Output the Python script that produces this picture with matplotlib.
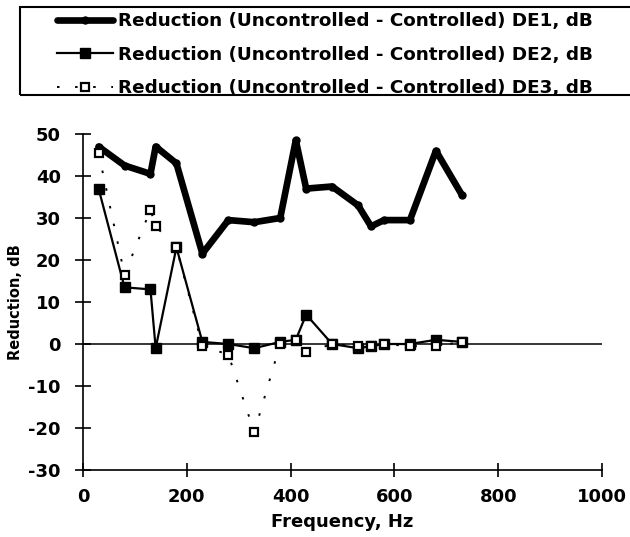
import numpy as np
import matplotlib
matplotlib.use('Agg')
import matplotlib.pyplot as plt
from matplotlib.patches import Rectangle

plt.rcParams['font.family'] = ['DejaVu Sans']
plt.rcParams['font.weight'] = 'bold'
plt.rcParams['axes.unicode_minus'] = False

# values
freq = [30, 80, 130, 140, 180, 230, 280, 330, 380, 410, 430, 480, 530, 555, 580, 630, 680, 730]
de1 = [47, 42.5, 40.5, 47, 43, 21.5, 29.5, 29, 30, 48.5, 37, 37.5, 33, 28, 29.5, 29.5, 46, 35.5]
de2 = [37, 13.5, 13, -1, 23, 0.5, 0, -1, 0.5, 1, 7, 0, -1, -0.5, 0, 0, 1, 0.5]
de3 = [45.5, 16.5, 32, 28, 23, -0.5, -2.5, -21, 0, 1, -2, 0, -0.5, -0.5, 0, -0.5, -0.5, 0.5]
labels = ['Reduction (Uncontrolled - Controlled) DE1, dB',
          'Reduction (Uncontrolled - Controlled) DE2, dB',
          'Reduction (Uncontrolled - Controlled) DE3, dB']
xticks = [0, 200, 400, 600, 800, 1000]
yticks = [-30, -20, -10, 0, 10, 20, 30, 40, 50]

W, H = 630, 537
fig = plt.figure(figsize=(W/100, H/100), dpi=100)
ax = fig.add_axes([83/W, 1-470/H, 519/W, 336/H])

ax.axhline(0, color='black', lw=1.1, zorder=1)
l1, = ax.plot(freq, de1, '-', color='black', lw=4.8, marker='o', ms=5,
              solid_joinstyle='round', solid_capstyle='round', zorder=3)
l2, = ax.plot(freq, de2, '-', color='black', lw=1.6, marker='s', ms=6.5, zorder=4)
l3, = ax.plot(freq, de3, linestyle=(0, (1.3, 8)), color='black', lw=1.4, marker='s',
              ms=6, mfc='white', mec='black', mew=1.6, zorder=5)

ax.set_xlim(0, 1000)
ax.set_ylim(-30, 50)
ax.set_xticks(xticks)
ax.set_yticks(yticks)
for s in ['top', 'right']:
    ax.spines[s].set_visible(False)
for s in ['left', 'bottom']:
    ax.spines[s].set_linewidth(1.2)
ax.tick_params(axis='y', direction='inout', length=12, width=1.2, pad=10, labelsize=13)
ax.tick_params(axis='x', direction='inout', length=9.5, width=1.2, pad=8, labelsize=13)
ax.set_xlabel('Frequency, Hz', fontsize=13, fontweight='bold', labelpad=5)
ax.set_ylabel('Reduction, dB', fontsize=10.5, fontweight='bold', labelpad=4)

# legend box across the top
fig.patches.append(Rectangle((20/W, 1-95/H), 620/W, 88/H, transform=fig.transFigure,
                             fill=False, ec='black', lw=1.5))
fig.legend([l1, l2, l3], labels, loc='upper left', bbox_to_anchor=(57/W, 1-12/H),
           frameon=False, fontsize=13.2, handlelength=3.05, handletextpad=0.28,
           labelspacing=0.85, borderpad=0, borderaxespad=0, numpoints=1)

fig.savefig('out.png', dpi=100)
